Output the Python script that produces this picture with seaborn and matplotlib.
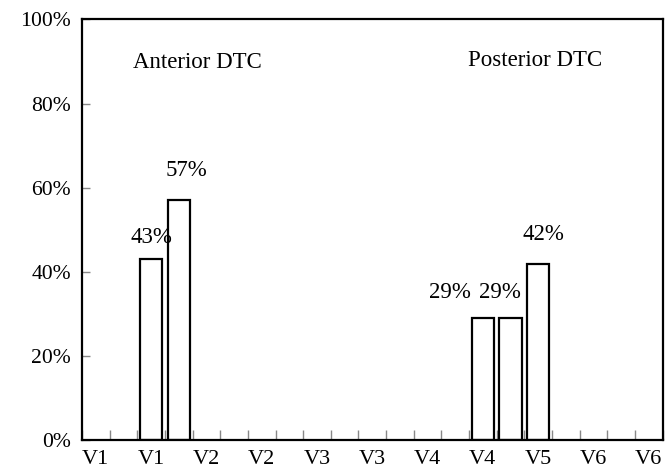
import matplotlib
matplotlib.use("Agg")
import matplotlib.pyplot as plt
import numpy as np
import pandas as pd
import seaborn as sns

# Category slots along the x axis (21 slots, every second one labelled)
n_slots = 21
tick_labels = ["V1", "V1", "V2", "V2", "V3", "V3", "V4", "V4", "V5", "V6", "V6"]

# Bars: slot index and percentage
bar_slots = [2, 3, 14, 15, 16]
bar_values = [43, 57, 29, 29, 42]

# Group captions
group_names = ["Anterior DTC", "Posterior DTC"]

sns.set_theme(style="white")
plt.rcParams["font.family"] = ["Liberation Serif", "DejaVu Serif"]

slot_order = [f"s{i}" for i in range(n_slots)]
df = pd.DataFrame({
    "slot": [f"s{i}" for i in bar_slots],
    "pct": bar_values,
})

fig = plt.figure(figsize=(6.69, 4.71), dpi=100)
ax = fig.add_axes([0.1226, 0.0648, 0.8677, 0.8942])

sns.barplot(data=df, x="slot", y="pct", order=slot_order, color="white",
            saturation=1, edgecolor="black", linewidth=1.6, width=0.8,
            errorbar=None, ax=ax)

ax.set_xlim(-0.5, n_slots - 0.5)
ax.set_ylim(0, 100)

# x: labels on every second slot, short tick marks on slot boundaries
ax.set_xticks(np.arange(0, n_slots, 2), labels=tick_labels)
ax.set_xticks(np.arange(-0.5, n_slots, 1), minor=True)
ax.tick_params(axis="x", which="major", length=0, labelsize=16, pad=7,
               colors="black")
ax.tick_params(axis="x", which="minor", direction="in", length=7,
               width=1, color="#888888", bottom=True)

# y: percentage scale
yt = np.arange(0, 101, 20)
ax.set_yticks(yt, labels=[f"{v}%" for v in yt])
ax.tick_params(axis="y", which="major", direction="in", length=6, width=1,
               color="#888888", labelsize=15.6, pad=8, left=True,
               labelcolor="black")

ax.set_xlabel("")
ax.set_ylabel("")
for sp in ax.spines.values():
    sp.set_visible(True)
    sp.set_color("black")
    sp.set_linewidth(1.6)

# Value labels above the bars (nudged sideways where they would collide)
label_dx = [0.0, 0.26, -1.18, -0.37, 0.18]
label_dy = [3.8, 5.9, 4.9, 4.9, 5.7]
for s, v, dx, dy in zip(bar_slots, bar_values, label_dx, label_dy):
    ax.text(s + dx, v + dy, f"{v}%", ha="center", va="baseline",
            fontsize=16.5, color="black")

# Group captions
ax.text(3.66, 88.4, group_names[0], ha="center", va="baseline",
        fontsize=16.5, color="black")
ax.text(15.9, 89.0, group_names[1], ha="center", va="baseline",
        fontsize=16.5, color="black")

fig.savefig("out.png", dpi=100)
